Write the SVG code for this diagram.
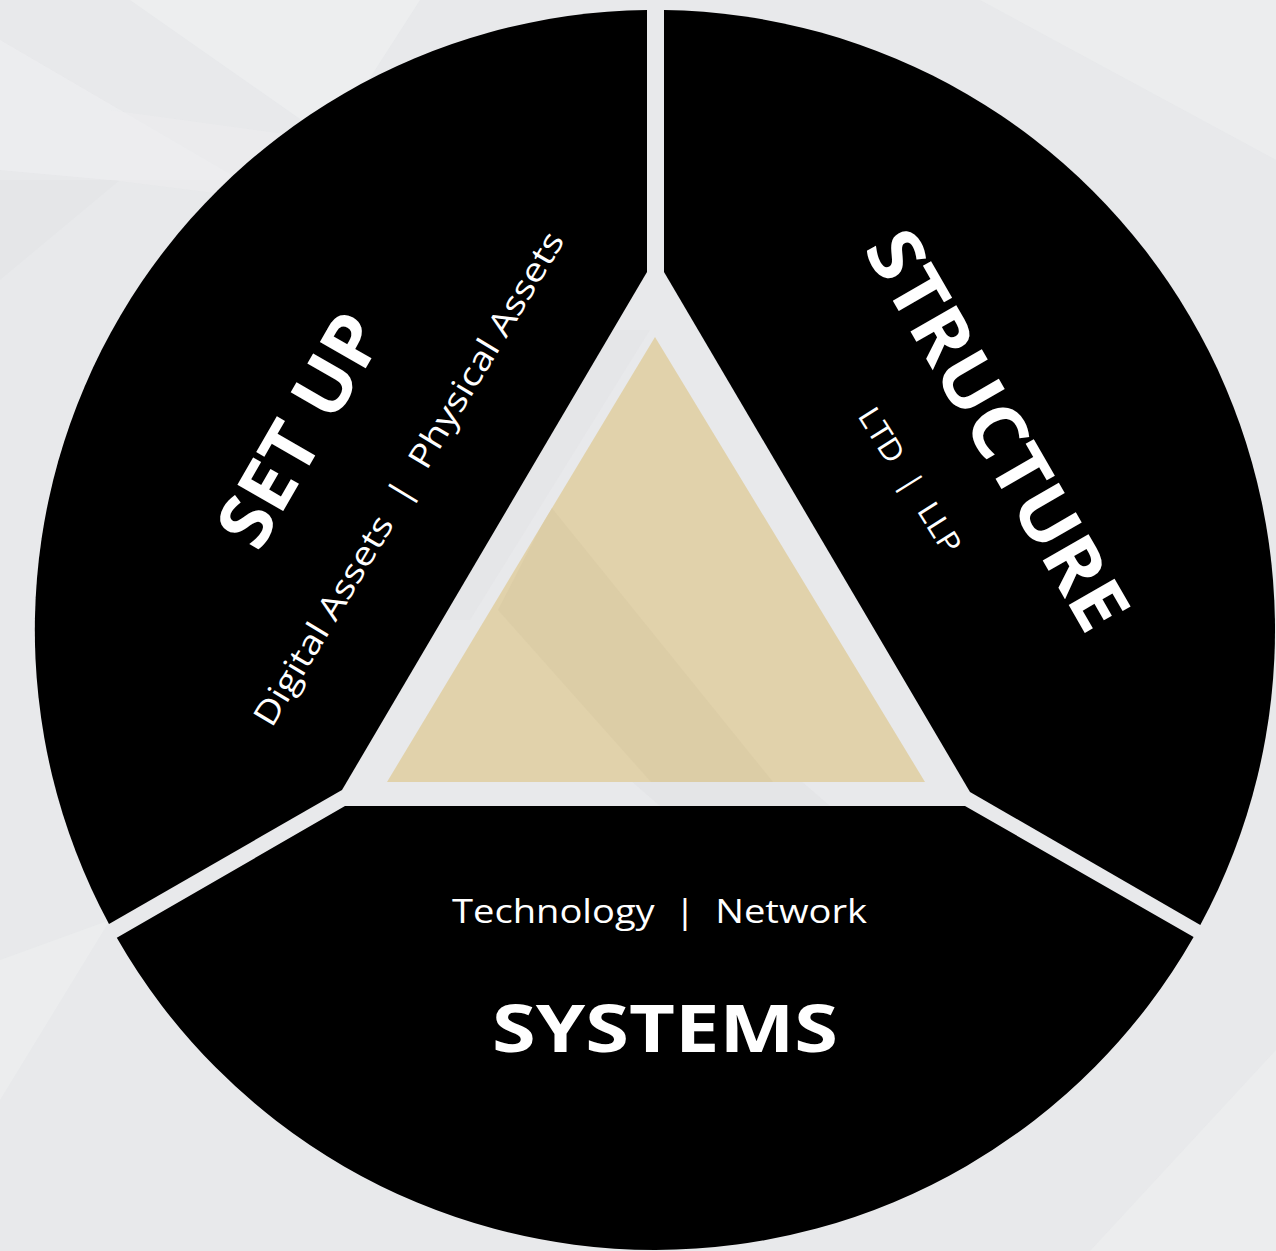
<svg xmlns="http://www.w3.org/2000/svg" width="1276" height="1251" viewBox="0 0 1276 1251">
  <style>
    .seg { fill: #000000; }
    .title { font-family: "Open Sans", "Liberation Sans", sans-serif; font-weight: 700; fill: #ffffff; }
    .sub { font-family: "Open Sans", "Liberation Sans", sans-serif; font-weight: 400; fill: #ffffff; }
  </style>
  <defs>
    <clipPath id="triClip">
      <polygon points="655,337 387,782 925,782"/>
    </clipPath>
  </defs>
  <g id="background">
    <rect x="0" y="0" width="1276" height="1251" fill="#E8E9EB"/>
    <polygon points="130,0 420,0 330,140" fill="#F2F3F4" opacity="0.5"/>
    <polygon points="0,40 240,180 110,180 0,170" fill="#F1F2F3" opacity="0.45"/>
    <polygon points="0,180 120,180 0,280" fill="#E2E3E5" opacity="0.5"/>
    <polygon points="110,110 330,140 350,210 110,180" fill="#EDEEEF" opacity="0.5"/>
    <polygon points="980,0 1276,0 1276,160" fill="#F0F1F2" opacity="0.5"/>
    <polygon points="0,960 110,920 0,1100" fill="#F0F1F2" opacity="0.5"/>
    <polygon points="1090,1251 1276,1050 1276,1251" fill="#F0F1F2" opacity="0.5"/>
    <polygon points="560,330 650,330 470,620 400,620" fill="#E1E2E4" opacity="0.4"/>
    <polygon points="630,780 800,780 830,806 660,806" fill="#DEDFE1" opacity="0.4"/>
  </g>
  <g id="setup">
    <path class="seg" d="M 647,272 L 647,10 A 620,620 0 0 0 109,924 L 342,790 Z"/>
    <text class="title" transform="translate(322.5,443) rotate(-60)" text-anchor="middle" font-size="74" textLength="255" lengthAdjust="spacingAndGlyphs">SET UP</text>
    <text class="sub" transform="translate(418.5,484.5) rotate(-59)" text-anchor="middle" font-size="33" textLength="570" lengthAdjust="spacingAndGlyphs" xml:space="preserve">Digital Assets  |  Physical Assets</text>
  </g>
  <g id="structure">
    <path class="seg" d="M 664,272 L 664,10 A 620,620 0 0 1 1200.3,925 L 970,792 Z"/>
    <text class="title" transform="translate(975,443) rotate(60)" text-anchor="middle" font-size="74" textLength="448" lengthAdjust="spacingAndGlyphs">STRUCTURE</text>
    <text class="sub" transform="translate(901,486) rotate(58)" text-anchor="middle" font-size="30" textLength="166" lengthAdjust="spacingAndGlyphs" xml:space="preserve">LTD  |  LLP</text>
  </g>
  <g id="systems">
    <path class="seg" d="M 345,806 L 116.8,937.8 A 620,620 0 0 0 1193.6,937 L 965,806 Z"/>
    <text class="sub" x="659.5" y="923" text-anchor="middle" font-size="33" textLength="415" lengthAdjust="spacingAndGlyphs" xml:space="preserve">Technology  |  Network</text>
    <text class="title" x="665" y="1052" text-anchor="middle" font-size="67" textLength="346" lengthAdjust="spacingAndGlyphs">SYSTEMS</text>
  </g>
  <g id="center-triangle">
    <polygon points="655,337 387,782 925,782" fill="#E1D2AB"/>
    <g clip-path="url(#triClip)">
      <polygon points="551,507 773,782 651,782 498,610" fill="#D9CAA4" opacity="0.6"/>
    </g>
  </g>
  <g id="connectors"/>
</svg>
